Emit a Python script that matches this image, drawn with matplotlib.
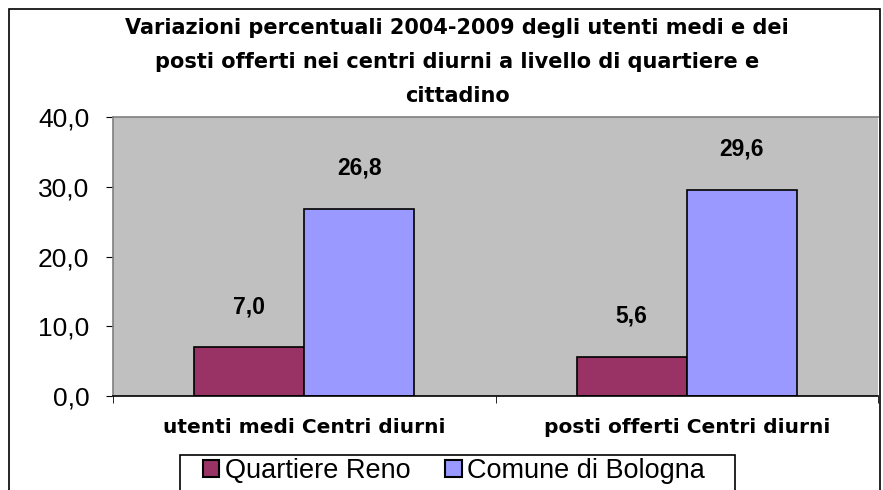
import matplotlib
matplotlib.use("Agg")
import matplotlib.pyplot as plt
from matplotlib.patches import Rectangle
import numpy as np

plt.rcParams['font.family'] = ['Liberation Sans', 'DejaVu Sans']
BOLD_FONT = ['DejaVu Sans']

categories = ["utenti medi Centri diurni", "posti offerti Centri diurni"]
series_names = ["Quartiere Reno", "Comune di Bologna"]
reno = [7.0, 5.6]
bologna = [26.8, 29.6]
colors = ["#993366", "#9999FF"]

W, H = 883, 490
fig = plt.figure(figsize=(W / 100, H / 100), dpi=100)

# outer chart border
fig.patches.append(Rectangle((9 / W, -0.05), 871 / W, 1.05 - 9 / H,
                             transform=fig.transFigure, fill=False,
                             edgecolor="black", linewidth=1.2))

left, right, top, bottom = 113, 878, 117, 396
ax = fig.add_axes([left / W, 1 - bottom / H, (right - left) / W, (bottom - top) / H])
ax.set_facecolor("#C0C0C0")

x = np.arange(len(categories))
bw = 0.288
b1 = ax.bar(x - bw / 2, reno, bw, color=colors[0], edgecolor="black", linewidth=1.2,
            label=series_names[0])
b2 = ax.bar(x + bw / 2, bologna, bw, color=colors[1], edgecolor="black", linewidth=1.2,
            label=series_names[1])

for bars in (b1, b2):
    for r in bars:
        ax.annotate(f"{r.get_height():.1f}".replace(".", ","),
                    (r.get_x() + r.get_width() / 2, r.get_height()),
                    xytext=(0, 21), textcoords="offset points",
                    ha="center", va="bottom", fontsize=16.5, fontweight="bold")

ax.set_xlim(-0.5, 1.5)
ax.set_ylim(0, 40)
ax.set_yticks(range(0, 41, 10))
ax.set_yticklabels([f"{v},0" for v in range(0, 41, 10)], fontsize=19)
ax.set_xticks([-0.5, 0.5, 1.5], minor=True)
ax.set_xticks(x)
ax.set_xticklabels(categories, fontsize=14.5, fontweight="bold", family=BOLD_FONT)
ax.tick_params(axis="x", which="major", length=0, pad=16)
ax.tick_params(axis="x", which="minor", length=5, direction="out")
ax.tick_params(axis="y", length=5, direction="out", pad=12)
for s in ("top", "right"):
    ax.spines[s].set_visible(False)
ax.spines["left"].set_color("#808080")
ax.spines["bottom"].set_color("black")
ax.spines["left"].set_linewidth(1.2)
ax.spines["bottom"].set_linewidth(1.2)
ax.plot([0, 1], [1, 1], transform=ax.transAxes, color="#808080", lw=1.2, clip_on=False)

fig.text(457 / W, 1 - 62 / H,
         "Variazioni percentuali 2004-2009 degli utenti medi e dei\n"
         "posti offerti nei centri diurni a livello di quartiere e\n"
         "cittadino",
         ha="center", va="center", fontsize=15, fontweight="bold",
         family=BOLD_FONT, linespacing=1.88)

# legend without frame; the box is drawn separately (Excel-style padding)
leg = fig.legend(loc="center", bbox_to_anchor=(454 / W, 1 - 471 / H), ncol=2,
                 fontsize=19.5, frameon=False,
                 handlelength=0.6, handleheight=0.6, handletextpad=0.2,
                 columnspacing=1.3, borderpad=0, borderaxespad=0)
for h in leg.legend_handles:
    h.set_edgecolor("black")
    h.set_linewidth(1.5)
fig.patches.append(Rectangle((180 / W, -0.05), 555 / W, 0.05 + 1 - 455 / H,
                             transform=fig.transFigure, fill=False,
                             edgecolor="black", linewidth=1.2))

fig.savefig("out.png", dpi=100)
